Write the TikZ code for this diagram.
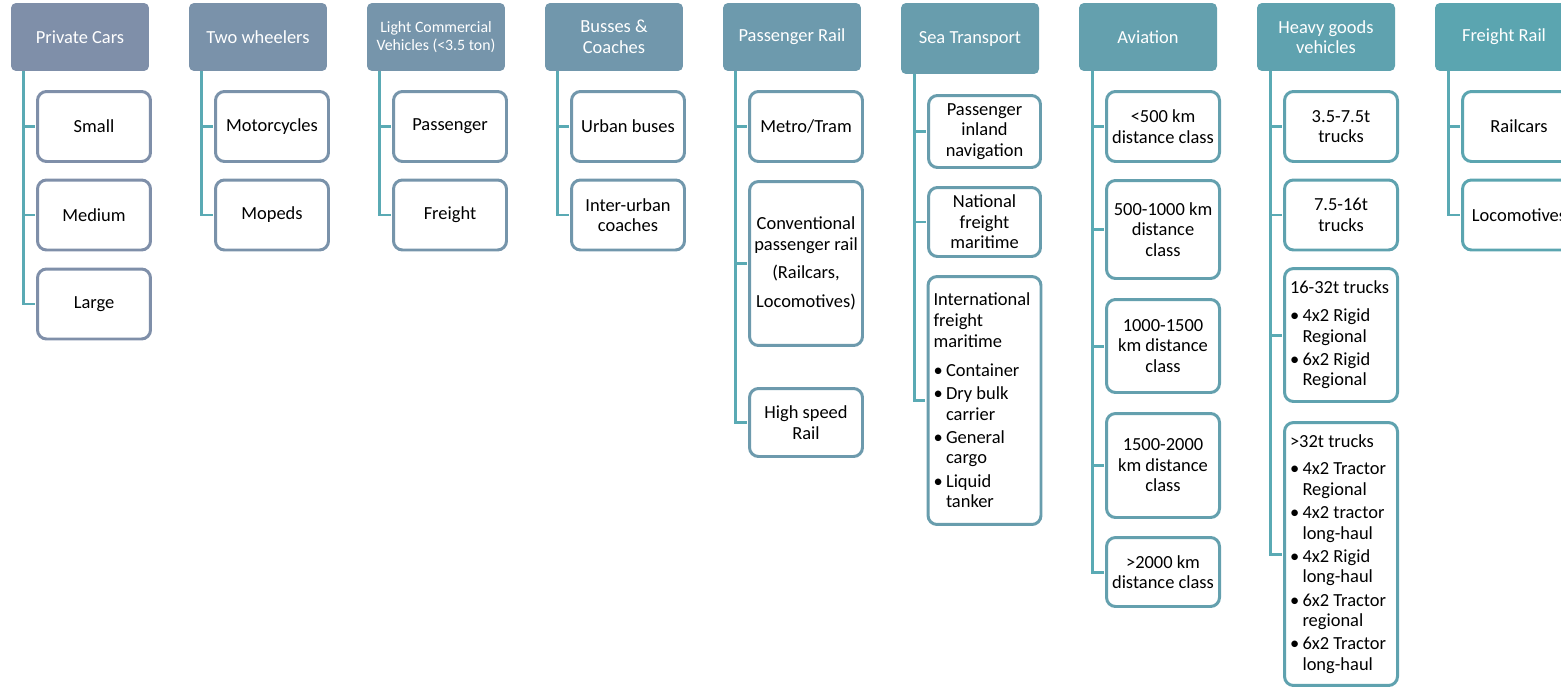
\documentclass[tikz,border=0pt]{standalone}
\usepackage{fontspec}
\setmainfont{Carlito}
\usepackage{tikz}
\usetikzlibrary{positioning}

\definecolor{hc0}{RGB}{127,143,169}
\definecolor{hc1}{RGB}{122,146,170}
\definecolor{hc2}{RGB}{118,149,171}
\definecolor{hc3}{RGB}{113,151,172}
\definecolor{hc4}{RGB}{109,154,173}
\definecolor{hc5}{RGB}{104,157,173}
\definecolor{hc6}{RGB}{100,160,174}
\definecolor{hc7}{RGB}{95,162,175}
\definecolor{hc8}{RGB}{91,165,176}
\definecolor{linkteal}{RGB}{90,170,180}

\newcommand{\blt}{\makebox[0.25cm][l]{\textbullet}}
\newcommand{\hng}{\hspace*{0.25cm}}

\tikzset{
  hdr/.style={fill=#1, rounded corners=0.1cm, text=white, minimum width=2.76cm, minimum height=1.36cm, align=center, inner sep=2pt},
  leaf/.style={draw=#1, line width=1.7pt, rounded corners=0.18cm, fill=white, minimum width=2.26cm, minimum height=1.4cm, align=center, inner sep=2pt},
  listleaf/.style={leaf=#1, align=flush left, text width=2.04cm, inner xsep=0.11cm},
  link/.style={draw=linkteal, line width=1.7pt, shorten >=0.85pt},
}

\begin{document}
\begin{tikzpicture}[x=0.02cm, y=-0.02cm, font=\fontsize{10.5}{11.7}\selectfont]
  \useasboundingbox (0,0) rectangle (1561,690);

  \node[hdr=hc0] (pc) at (80,37) {Private Cars};
  \node[hdr=hc1] (tw) at (258,37) {Two wheelers};
  \node[hdr=hc2, font=\fontsize{9}{10.2}\selectfont] (lcv) at (436,37) {Light Commercial\\Vehicles (<3.5 ton)};
  \node[hdr=hc3] (bus) at (614,37) {Busses \&\\Coaches};
  \node[hdr=hc4] (pr) at (792,37) {Passenger Rail};
  \node[hdr=hc5, minimum height=1.42cm] (sea) at (970,38.5) {Sea Transport};
  \node[hdr=hc6] (av) at (1148,37) {Aviation};
  \node[hdr=hc7] (hgv) at (1326,37) {Heavy goods\\vehicles};
  \node[hdr=hc8] (fr) at (1504,37) {Freight Rail};

  \node[leaf=hc0] (pc1) at (94,126.5) {Small};
  \node[leaf=hc0] (pc2) at (94,215) {Medium};
  \node[leaf=hc0] (pc3) at (94,304) {Large};

  \node[leaf=hc1] (tw1) at (272,126.5) {Motorcycles};
  \node[leaf=hc1] (tw2) at (272,215) {Mopeds};

  \node[leaf=hc2] (lcv1) at (450,126.5) {Passenger};
  \node[leaf=hc2] (lcv2) at (450,215) {Freight};

  \node[leaf=hc3] (bus1) at (628,126.5) {Urban buses};
  \node[leaf=hc3] (bus2) at (628,215) {Inter-urban\\coaches};

  \node[leaf=hc4] (pr1) at (806,126.5) {Metro/Tram};
  \node[leaf=hc4, minimum height=3.28cm] (pr2) at (806,263.5) {Conventional\\passenger rail\\[4.5pt](Railcars,\\[4.5pt]Locomotives)};
  \node[leaf=hc4, minimum height=1.36cm] (pr3) at (806,422.5) {High speed\\Rail};

  \node[leaf=hc5, minimum height=1.44cm, minimum width=2.24cm] (sea1) at (984.5,131.5) {Passenger\\inland\\navigation};
  \node[leaf=hc5, minimum height=1.38cm, minimum width=2.24cm] (sea2) at (984.5,222) {National\\freight\\maritime};
  \node[listleaf=hc5, minimum height=4.96cm] (sea3) at (984.5,400.5) {International\\freight\\maritime\\[5pt]
    \blt Container\\[1.5pt]
    \blt Dry bulk\\\hng carrier\\[1.5pt]
    \blt General\\\hng cargo\\[1.5pt]
    \blt Liquid\\\hng tanker};

  \node[leaf=hc6] (av1) at (1163,126.5) {<500 km\\distance class};
  \node[leaf=hc6, minimum height=1.96cm] (av2) at (1163,229.5) {500-1000 km\\distance\\class};
  \node[leaf=hc6, minimum height=1.86cm] (av3) at (1163,346) {1000-1500\\km distance\\class};
  \node[leaf=hc6, minimum height=2.08cm] (av4) at (1163,465.5) {1500-2000\\km distance\\class};
  \node[leaf=hc6, minimum height=1.38cm] (av5) at (1163,572) {>2000 km\\distance class};

  \node[leaf=hc7] (hgv1) at (1341,126.5) {3.5-7.5t\\trucks};
  \node[leaf=hc7] (hgv2) at (1341,215) {7.5-16t\\trucks};
  \node[listleaf=hc7, minimum height=2.66cm] (hgv3) at (1341,335) {16-32t trucks\\[4pt]
    \blt 4x2 Rigid\\\hng Regional\\[1.5pt]
    \blt 6x2 Rigid\\\hng Regional};
  \node[listleaf=hc7, minimum height=5.26cm] (hgv4) at (1341,554) {>32t trucks\\[4pt]
    \blt 4x2 Tractor\\\hng Regional\\[1.5pt]
    \blt 4x2 tractor\\\hng long-haul\\[1.5pt]
    \blt 4x2 Rigid\\\hng long-haul\\[1.5pt]
    \blt 6x2 Tractor\\\hng regional\\[1.5pt]
    \blt 6x2 Tractor\\\hng long-haul};

  \node[leaf=hc8] (fr1) at (1519,126.5) {Railcars};
  \node[leaf=hc8] (fr2) at (1519,215) {Locomotives};

  \draw[link] ([xshift=-1.14cm]pc.south) |- (pc1.west);
  \draw[link] ([xshift=-1.14cm]pc.south) |- (pc2.west);
  \draw[link] ([xshift=-1.14cm]pc.south) |- (pc3.west);
  \draw[link] ([xshift=-1.14cm]tw.south) |- (tw1.west);
  \draw[link] ([xshift=-1.14cm]tw.south) |- (tw2.west);
  \draw[link] ([xshift=-1.14cm]lcv.south) |- (lcv1.west);
  \draw[link] ([xshift=-1.14cm]lcv.south) |- (lcv2.west);
  \draw[link] ([xshift=-1.14cm]bus.south) |- (bus1.west);
  \draw[link] ([xshift=-1.14cm]bus.south) |- (bus2.west);
  \draw[link] ([xshift=-1.14cm]pr.south) |- (pr1.west);
  \draw[link] ([xshift=-1.14cm]pr.south) |- (pr2.west);
  \draw[link] ([xshift=-1.14cm]pr.south) |- (pr3.west);
  \draw[link] ([xshift=-1.12cm]sea.south) |- (sea1.west);
  \draw[link] ([xshift=-1.12cm]sea.south) |- (sea2.west);
  \draw[link] ([xshift=-1.12cm]sea.south) |- (sea3.west);
  \draw[link] ([xshift=-1.12cm]av.south) |- (av1.west);
  \draw[link] ([xshift=-1.12cm]av.south) |- (av2.west);
  \draw[link] ([xshift=-1.12cm]av.south) |- (av3.west);
  \draw[link] ([xshift=-1.12cm]av.south) |- (av4.west);
  \draw[link] ([xshift=-1.12cm]av.south) |- (av5.west);
  \draw[link] ([xshift=-1.12cm]hgv.south) |- (hgv1.west);
  \draw[link] ([xshift=-1.12cm]hgv.south) |- (hgv2.west);
  \draw[link] ([xshift=-1.12cm]hgv.south) |- (hgv3.west);
  \draw[link] ([xshift=-1.12cm]hgv.south) |- (hgv4.west);
  \draw[link] ([xshift=-1.12cm]fr.south) |- (fr1.west);
  \draw[link] ([xshift=-1.12cm]fr.south) |- (fr2.west);
\end{tikzpicture}
\end{document}
